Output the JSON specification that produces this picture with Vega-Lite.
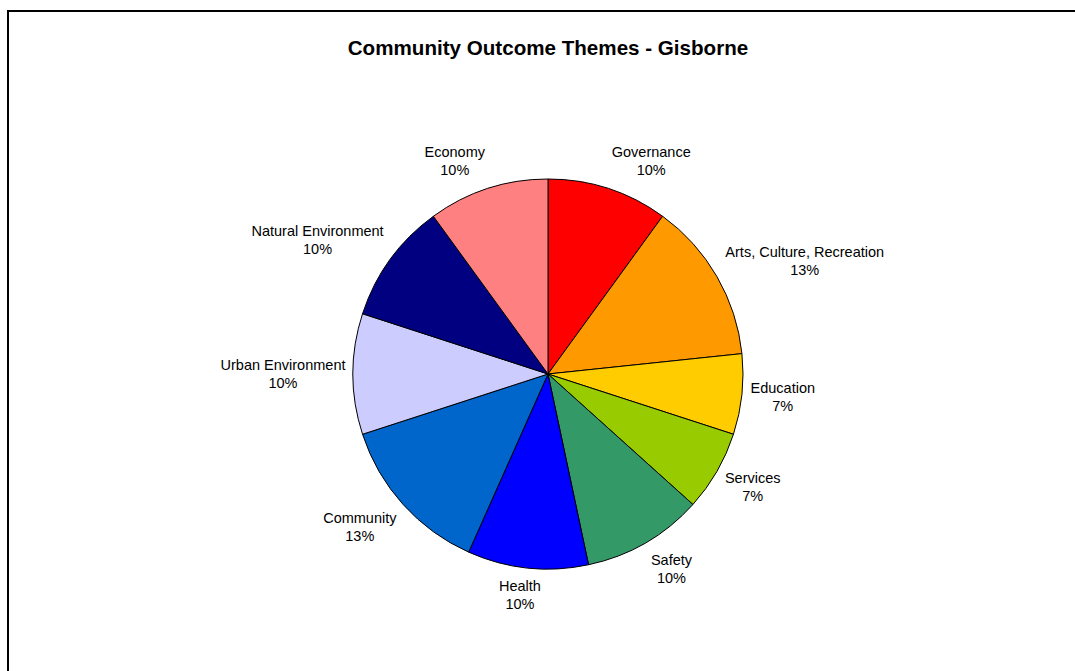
{
  "$schema": "https://vega.github.io/schema/vega-lite/v6.json",
  "width": 1080,
  "height": 726,
  "autosize": {"type": "none"},
  "padding": {"left": 8, "top": 11, "right": 0, "bottom": 0},
  "background": "white",
  "view": {"stroke": "black", "strokeWidth": 2, "fill": "white"},
  "title": {
    "text": "Community Outcome Themes - Gisborne",
    "font": "Liberation Sans",
    "fontSize": 20.6,
    "fontWeight": "bold",
    "color": "black",
    "anchor": "middle",
    "baseline": "alphabetic",
    "offset": 0,
    "dy": 65
  },
  "data": {
    "values": [
      {"seq": 1, "name": "Governance", "value": 3, "pct": "10%"},
      {"seq": 2, "name": "Arts, Culture, Recreation", "value": 4, "pct": "13%"},
      {"seq": 3, "name": "Education", "value": 2, "pct": "7%"},
      {"seq": 4, "name": "Services", "value": 2, "pct": "7%"},
      {"seq": 5, "name": "Safety", "value": 3, "pct": "10%"},
      {"seq": 6, "name": "Health", "value": 3, "pct": "10%"},
      {"seq": 7, "name": "Community", "value": 4, "pct": "13%"},
      {"seq": 8, "name": "Urban Environment", "value": 3, "pct": "10%"},
      {"seq": 9, "name": "Natural Environment", "value": 3, "pct": "10%"},
      {"seq": 10, "name": "Economy", "value": 3, "pct": "10%"}
    ]
  },
  "transform": [
    {"calculate": "datum.name + '\\n' + datum.pct", "as": "label"}
  ],
  "encoding": {
    "theta": {"field": "value", "type": "quantitative", "stack": true},
    "order": {"field": "seq", "type": "quantitative"}
  },
  "layer": [
    {
      "mark": {"type": "arc", "outerRadius": 195, "stroke": "black", "strokeWidth": 1},
      "encoding": {
        "color": {
          "field": "name",
          "type": "nominal",
          "legend": null,
          "scale": {
            "domain": ["Governance", "Arts, Culture, Recreation", "Education", "Services", "Safety", "Health", "Community", "Urban Environment", "Natural Environment", "Economy"],
            "range": ["#FF0000", "#FF9900", "#FFCC00", "#99CC00", "#339966", "#0000FF", "#0066CC", "#CCCCFF", "#000080", "#FF8080"]
          }
        }
      }
    },
    {
      "mark": {"type": "text", "radius": 224, "dx": 34, "dy": -8, "align": "center", "baseline": "middle", "lineBreak": "\n", "lineHeight": 18, "font": "Liberation Sans", "fontSize": 14.5, "color": "black"},
      "encoding": {"text": {"condition": {"test": "datum.name == 'Governance'", "field": "label"}, "value": ""}}
    },
    {
      "mark": {"type": "text", "radius": 226, "dx": 61, "dy": -8, "align": "center", "baseline": "middle", "lineBreak": "\n", "lineHeight": 18, "font": "Liberation Sans", "fontSize": 14.5, "color": "black"},
      "encoding": {"text": {"condition": {"test": "datum.name == 'Arts, Culture, Recreation'", "field": "label"}, "value": ""}}
    },
    {
      "mark": {"type": "text", "radius": 220, "dx": 16, "dy": -8, "align": "center", "baseline": "middle", "lineBreak": "\n", "lineHeight": 18, "font": "Liberation Sans", "fontSize": 14.5, "color": "black"},
      "encoding": {"text": {"condition": {"test": "datum.name == 'Education'", "field": "label"}, "value": ""}}
    },
    {
      "mark": {"type": "text", "radius": 226, "dx": 9, "dy": -8, "align": "center", "baseline": "middle", "lineBreak": "\n", "lineHeight": 18, "font": "Liberation Sans", "fontSize": 14.5, "color": "black"},
      "encoding": {"text": {"condition": {"test": "datum.name == 'Services'", "field": "label"}, "value": ""}}
    },
    {
      "mark": {"type": "text", "radius": 225, "dx": 11, "dy": -8, "align": "center", "baseline": "middle", "lineBreak": "\n", "lineHeight": 18, "font": "Liberation Sans", "fontSize": 14.5, "color": "black"},
      "encoding": {"text": {"condition": {"test": "datum.name == 'Safety'", "field": "label"}, "value": ""}}
    },
    {
      "mark": {"type": "text", "radius": 221, "dx": -5, "dy": -7, "align": "center", "baseline": "middle", "lineBreak": "\n", "lineHeight": 18, "font": "Liberation Sans", "fontSize": 14.5, "color": "black"},
      "encoding": {"text": {"condition": {"test": "datum.name == 'Health'", "field": "label"}, "value": ""}}
    },
    {
      "mark": {"type": "text", "radius": 229, "dx": -18, "dy": -8, "align": "center", "baseline": "middle", "lineBreak": "\n", "lineHeight": 18, "font": "Liberation Sans", "fontSize": 14.5, "color": "black"},
      "encoding": {"text": {"condition": {"test": "datum.name == 'Community'", "field": "label"}, "value": ""}}
    },
    {
      "mark": {"type": "text", "radius": 225, "dx": -40, "dy": -8, "align": "center", "baseline": "middle", "lineBreak": "\n", "lineHeight": 18, "font": "Liberation Sans", "fontSize": 14.5, "color": "black"},
      "encoding": {"text": {"condition": {"test": "datum.name == 'Urban Environment'", "field": "label"}, "value": ""}}
    },
    {
      "mark": {"type": "text", "radius": 228, "dx": -46, "dy": -8, "align": "center", "baseline": "middle", "lineBreak": "\n", "lineHeight": 18, "font": "Liberation Sans", "fontSize": 14.5, "color": "black"},
      "encoding": {"text": {"condition": {"test": "datum.name == 'Natural Environment'", "field": "label"}, "value": ""}}
    },
    {
      "mark": {"type": "text", "radius": 224, "dx": -24, "dy": -8, "align": "center", "baseline": "middle", "lineBreak": "\n", "lineHeight": 18, "font": "Liberation Sans", "fontSize": 14.5, "color": "black"},
      "encoding": {"text": {"condition": {"test": "datum.name == 'Economy'", "field": "label"}, "value": ""}}
    }
  ],
  "config": {
    "view": {"stroke": "black", "strokeWidth": 2}
  }
}
